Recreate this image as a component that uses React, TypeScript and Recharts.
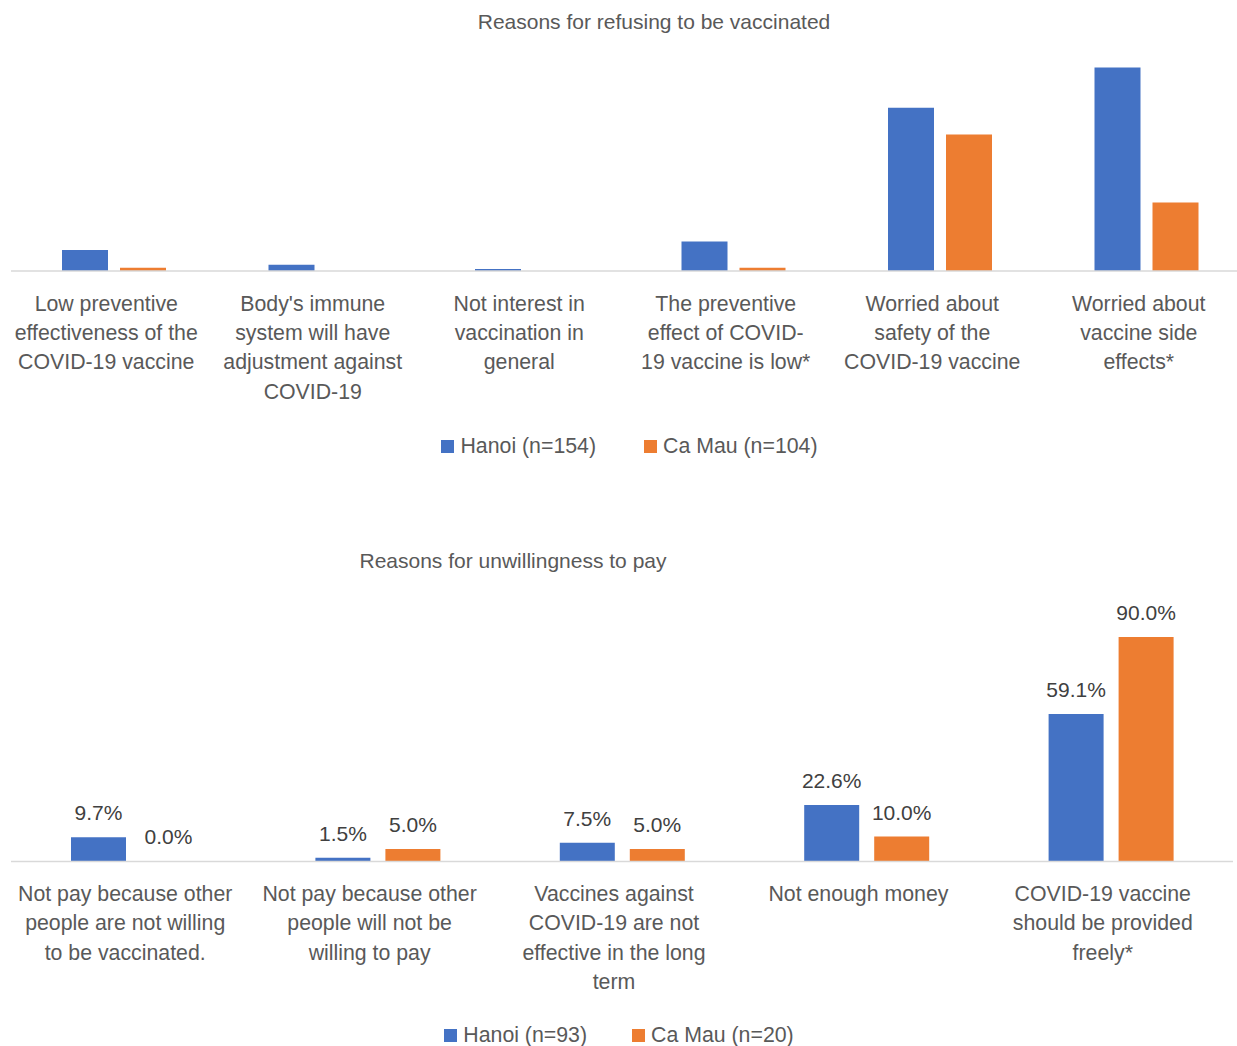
import React from 'react'
import { BarChart, Bar, XAxis, YAxis, Legend, LabelList, Cell } from 'recharts'

// Reasons for refusing to be vaccinated (no axis in the source, values estimated as %)
const refuseCategories = [
  'Low preventive\neffectiveness of the\nCOVID-19 vaccine',
  "Body's immune\nsystem will have\nadjustment against\nCOVID-19",
  'Not interest in\nvaccination in\ngeneral',
  'The preventive\neffect of COVID-\n19 vaccine is low*',
  'Worried about\nsafety of the\nCOVID-19 vaccine',
  'Worried about\nvaccine side\neffects*',
]
const refuseHanoi = [6.5, 1.9, 0.6, 9.1, 50.6, 63.0]
const refuseCaMau = [1.0, 0, 0, 1.0, 42.3, 21.2]

// Reasons for unwillingness to pay
const payCategories = [
  'Not pay because other\npeople are not willing\nto be vaccinated.',
  'Not pay because other\npeople will not be\nwilling to pay',
  'Vaccines against\nCOVID-19 are not\neffective in the long\nterm',
  'Not enough money',
  'COVID-19 vaccine\nshould be provided\nfreely*',
]
const payHanoi = [9.7, 1.5, 7.5, 22.6, 59.1]
const payCaMau = [0, 5.0, 5.0, 10.0, 90.0]

const FONT = '"Liberation Sans", Arial, Helvetica, sans-serif'
const BLUE = '#4472C4'
const ORANGE = '#ED7D31'
const TEXT = '#595959'
const SERIES_ORDER = ['hanoi', 'camau']

const refuseData = refuseCategories.map((name, i) => ({ name, hanoi: refuseHanoi[i], camau: refuseCaMau[i] }))
const payData = payCategories.map((name, i) => ({ name, hanoi: payHanoi[i], camau: payCaMau[i] }))

function WrappedTick(props: any) {
  const { x, y, payload } = props
  const lines = String(payload.value).split('\n')
  const cx = x - 8
  return (
    <text x={cx} y={y + 39.5} textAnchor="middle" fill={TEXT} fontSize={21.3} fontFamily={FONT}>
      {lines.map((l, i) => (
        <tspan key={i} x={cx} dy={i === 0 ? 0 : 29.4}>
          {l}
        </tspan>
      ))}
    </text>
  )
}

// data label drawn above the bar
function ValueLabel(props: any) {
  const { x, y, width, height, value } = props
  if (value == null) return null
  const top = Math.min(y, y + height)
  return (
    <text x={x + width / 2} y={top - 17} textAnchor="middle" fill="#404040" fontSize={21} fontFamily={FONT}>
      {`${Number(value).toFixed(1)}%`}
    </text>
  )
}

// zero bars get a hairline (invisible) so their label is still placed
const keepZero = (v: any) => (Number(v) === 0 ? 0.3 : 0)

const legendContent = (gap: number, shift: number) => (props: any) => {
  const items = [...(props.payload || [])].sort(
    (a: any, b: any) => SERIES_ORDER.indexOf(a.dataKey) - SERIES_ORDER.indexOf(b.dataKey)
  )
  return (
    <div
      style={{
        display: 'flex',
        justifyContent: 'center',
        alignItems: 'center',
        gap,
        height: 30,
        paddingRight: shift,
        fontSize: 21.3,
        fontFamily: FONT,
        color: TEXT,
      }}
    >
      {items.map((p: any) => (
        <span key={p.value} style={{ display: 'flex', alignItems: 'center' }}>
          <span style={{ width: 13, height: 13, background: p.color, marginRight: 6, display: 'inline-block' }} />
          {p.value}
        </span>
      ))}
    </div>
  )
}

const titleStyle = (x: number, y: number): React.CSSProperties => ({
  position: 'absolute',
  left: x,
  top: y - 12,
  transform: 'translateX(-50%)',
  whiteSpace: 'nowrap',
  fontSize: 21,
  lineHeight: '24px',
  fontFamily: FONT,
  color: TEXT,
})

export default function App() {
  return (
    <div
      style={{
        position: 'absolute',
        left: 0,
        top: 0,
        width: 1237,
        height: 1046,
        overflow: 'hidden',
        background: '#fff',
      }}
    >
      <div style={titleStyle(654, 22)}>Reasons for refusing to be vaccinated</div>
      <div style={{ position: 'absolute', left: 0, top: 0 }}>
        <BarChart
          width={1250}
          height={461}
          data={refuseData}
          margin={{ top: 45, right: 0, bottom: 0, left: 11 }}
          barSize={46}
          barGap={12}
        >
          <XAxis
            dataKey="name"
            height={160}
            interval={0}
            tickLine={false}
            tickSize={0}
            tickMargin={0}
            axisLine={{ stroke: '#D9D9D9', strokeWidth: 1.5 }}
            tick={<WrappedTick />}
          />
          <YAxis hide domain={[0, 70]} />
          <Legend content={legendContent(48, 2)} />
          <Bar dataKey="hanoi" name="Hanoi (n=154)" fill={BLUE} isAnimationActive={false} />
          <Bar dataKey="camau" name="Ca Mau (n=104)" fill={ORANGE} isAnimationActive={false} />
        </BarChart>
      </div>

      <div style={titleStyle(513, 561)}>Reasons for unwillingness to pay</div>
      <div style={{ position: 'absolute', left: 0, top: 480 }}>
        <BarChart
          width={1237}
          height={570}
          data={payData}
          margin={{ top: 132, right: 4, bottom: 0, left: 11 }}
          barSize={55}
          barGap={15}
        >
          <XAxis
            dataKey="name"
            height={158.5}
            interval={0}
            tickLine={false}
            tickSize={0}
            tickMargin={0}
            axisLine={{ stroke: '#D9D9D9', strokeWidth: 1.5 }}
            tick={<WrappedTick />}
          />
          <YAxis hide domain={[0, 100]} />
          <Legend content={legendContent(45, 6)} />
          <Bar dataKey="hanoi" name="Hanoi (n=93)" fill={BLUE} isAnimationActive={false}>
            <LabelList dataKey="hanoi" content={<ValueLabel />} />
          </Bar>
          <Bar dataKey="camau" name="Ca Mau (n=20)" fill={ORANGE} minPointSize={keepZero} isAnimationActive={false}>
            {payCaMau.map((v, i) => (
              <Cell key={i} fillOpacity={v === 0 ? 0 : 1} />
            ))}
            <LabelList dataKey="camau" content={<ValueLabel />} />
          </Bar>
        </BarChart>
      </div>
    </div>
  )
}
